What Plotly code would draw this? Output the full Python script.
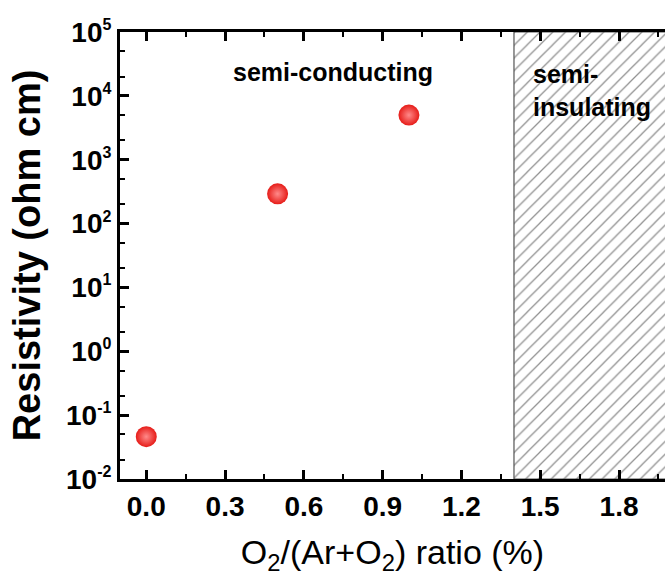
import plotly.graph_objects as go

# data
o2_ratio = [0.0, 0.5, 1.0]
resistivity = [0.046, 292, 5000]
x_ticks = [0.0, 0.3, 0.6, 0.9, 1.2, 1.5, 1.8]
x_ticklabels = ["0.0", "0.3", "0.6", "0.9", "1.2", "1.5", "1.8"]
y_exponents = [-2, -1, 0, 1, 2, 3, 4, 5]
region_x = [1.4, 2.0]
region_y = [1e-2, 1e5]

y_vals = [10.0 ** e for e in y_exponents]
y_text = ["10<sup><span style='font-size:16px'>%d</span></sup>" % e for e in y_exponents]

FONT = "Liberation Sans, Arial, sans-serif"

fig = go.Figure()

# hatched semi-insulating region
fig.add_trace(go.Scatter(
    x=[region_x[0], region_x[1], region_x[1], region_x[0], region_x[0]],
    y=[region_y[0], region_y[0], region_y[1], region_y[1], region_y[0]],
    mode="lines", fill="toself",
    fillcolor="rgba(255,255,255,0)",
    fillpattern=dict(shape="/", fgcolor="#222222", bgcolor="white", size=9, solidity=0.14),
    line=dict(color="#555555", width=1.2),
    hoverinfo="skip", showlegend=False,
))

fig.add_trace(go.Scatter(
    x=o2_ratio, y=resistivity, mode="markers",
    marker=dict(size=21, color="#e61c18",
                gradient=dict(type="radial", color="#ff8a8a"),
                line=dict(width=0)),
    showlegend=False,
))

fig.add_annotation(x=0.71, y=4.37, xref="x", yref="y", text="<b>semi-conducting</b>",
                   showarrow=False, font=dict(family=FONT, size=25, color="black"))
fig.add_annotation(x=1.465, y=4.6, xref="x", yref="y", text="<b>semi-<br>insulating</b>",
                   showarrow=False, xanchor="left", yanchor="top", align="left",
                   font=dict(family=FONT, size=25, color="black"))

fig.update_layout(
    width=665, height=578,
    margin=dict(l=120, r=0, t=32, b=99),
    paper_bgcolor="white", plot_bgcolor="white",
    font=dict(family=FONT, color="black"),
    xaxis=dict(
        range=[-0.1, 1.975], tickvals=x_ticks, ticktext=x_ticklabels,
        ticks="inside", ticklen=9, tickwidth=2.5, tickcolor="black",
        minor=dict(ticks="inside", ticklen=5, tickwidth=2, dtick=0.15, tick0=0.15, tickcolor="black"),
        showline=True, linewidth=3, linecolor="black", mirror="ticks",
        showgrid=False, zeroline=False,
        tickfont=dict(family=FONT, size=28, color="black", weight="bold"),
        title=dict(text="O<sub>2</sub>/(Ar+O<sub>2</sub>) ratio (%)",
                   font=dict(family=FONT, size=34, color="black"), standoff=20),
    ),
    yaxis=dict(
        type="log", range=[-2, 5], tickvals=y_vals, ticktext=y_text,
        ticks="inside", ticklen=9, tickwidth=2.5, tickcolor="black",
        minor=dict(ticks="inside", ticklen=5, tickwidth=1.5, tickcolor="black"),
        showline=True, linewidth=3, linecolor="black",
        showgrid=False, zeroline=False,
        tickfont=dict(family=FONT, size=28, color="black", weight="bold"),
        title=dict(text="<b>Resistivity (ohm cm)</b>",
                   font=dict(family=FONT, size=38, color="black"), standoff=14),
    ),
)

fig.write_html("out.html")
